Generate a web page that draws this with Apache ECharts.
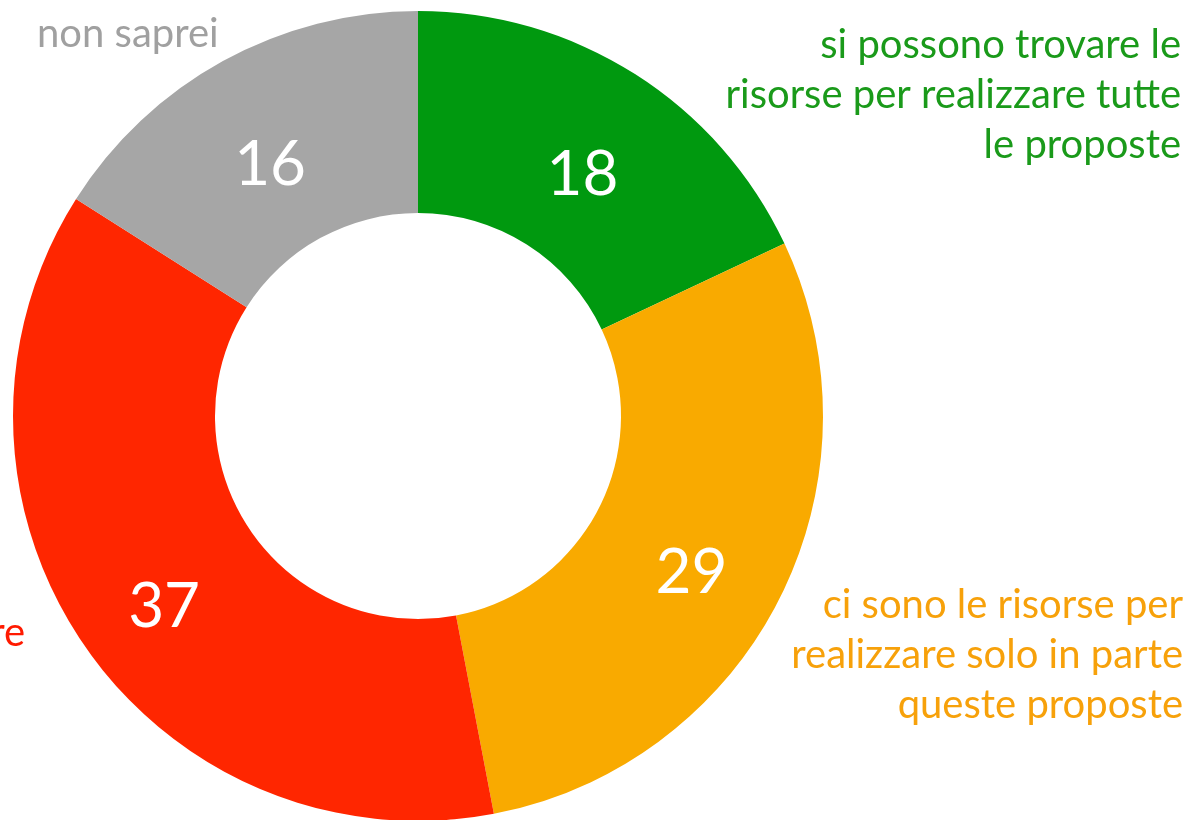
<!DOCTYPE html>
<html>
<head>
<meta charset="utf-8">
<script src="https://cdn.jsdelivr.net/npm/echarts@6/dist/echarts.min.js"></script>
<style>
  html, body { margin: 0; padding: 0; background: #fff; }
  #chart { width: 1190px; height: 820px; }
</style>
</head>
<body>
<div id="chart"></div>
<script>
// dati del grafico
var categories = [
  "si possono trovare le\nrisorse per realizzare tutte\nle proposte",
  "ci sono le risorse per\nrealizzare solo in parte\nqueste proposte",
  "non si possono realizzare",
  "non saprei"
];
var values = [18, 29, 37, 16];
var sliceColors = ["#00990f", "#f9aa00", "#ff2600", "#a6a6a6"];
var textColors = ["#1a9a1a", "#f7a10a", "#ff1a00", "#a0a0a0"];

var myChart = echarts.init(document.getElementById("chart"));

var font = "Lato, 'Noto Sans', sans-serif";

// etichette esterne
var labelPos = [
  { x: 1181, y: 20, align: "right" },
  { x: 1183, y: 580, align: "right" },
  { x: 25, y: 608, align: "right" },
  { x: 37, y: 9, align: "left" }
];
var graphics = categories.map(function (name, i) {
  return {
    type: "text",
    x: labelPos[i].x,
    y: labelPos[i].y,
    style: {
      text: name,
      fill: textColors[i],
      font: "40px " + font,
      lineHeight: 50,
      align: labelPos[i].align,
      verticalAlign: "top"
    }
  };
});

var option = {
  animation: false,
  graphic: graphics,
  series: [
    {
      type: "pie",
      center: [418, 416],
      radius: [203, 405],
      startAngle: 90,
      clockwise: true,
      avoidLabelOverlap: false,
      data: categories.map(function (name, i) {
        return { name: name, value: values[i], itemStyle: { color: sliceColors[i] } };
      }),
      label: {
        show: true,
        position: "inside",
        formatter: "{c}",
        color: "#fff",
        fontSize: 62,
        fontFamily: font,
        offset: [0, 18]
      },
      labelLine: { show: false },
      emphasis: { disabled: true }
    }
  ]
};
myChart.setOption(option);
</script>
</body>
</html>
